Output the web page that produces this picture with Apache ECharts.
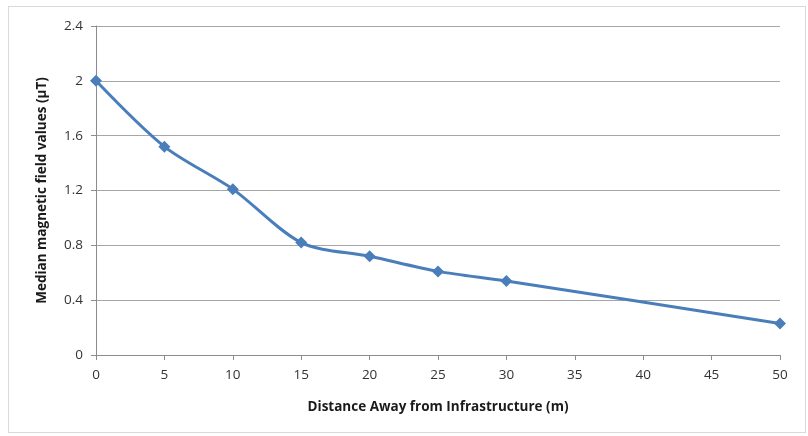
<!DOCTYPE html>
<html>
<head>
<meta charset="utf-8">
<script src="https://cdn.jsdelivr.net/npm/echarts@6/dist/echarts.min.js"></script>
<style>
html,body{margin:0;padding:0;background:#fff;}
#frame{position:absolute;left:8px;top:6px;width:798px;height:427px;border:1px solid #d9d9d9;box-sizing:border-box;}
#c{position:absolute;left:0;top:0;width:808px;height:436px;}
</style>
</head>
<body>
<div id="frame"></div>
<div id="c"></div>
<script>
const distances = [0, 5, 10, 15, 20, 25, 30, 50];
const medianValues = [2.0, 1.52, 1.21, 0.82, 0.72, 0.61, 0.54, 0.23];
const xTitle = 'Distance Away from Infrastructure (m)';
const yTitle = 'Median magnetic field values (µT)';

const chart = echarts.init(document.getElementById('c'));
const font = '"Open Sans", "Liberation Sans", sans-serif';
chart.setOption({
  animation: false,
  grid: {left: 96, right: 28, top: 26, bottom: 81, containLabel: false},
  xAxis: {
    type: 'value', min: 0, max: 50, interval: 5,
    name: xTitle, nameLocation: 'middle', nameGap: 45,
    nameTextStyle: {fontFamily: font, fontSize: 13.5, fontWeight: 'bold', color: '#1a1a1a'},
    axisLine: {lineStyle: {color: '#8c8c8c', width: 1}},
    axisTick: {show: true, length: 5, lineStyle: {color: '#8c8c8c'}},
    axisLabel: {fontFamily: font, fontSize: 13.5, color: '#333', margin: 13},
    splitLine: {show: false}
  },
  yAxis: {
    type: 'value', min: 0, max: 2.4, interval: 0.4,
    name: yTitle, nameLocation: 'middle', nameGap: 47, nameRotate: 90,
    nameTextStyle: {fontFamily: font, fontSize: 13.5, fontWeight: 'bold', color: '#1a1a1a'},
    axisLine: {show: true, lineStyle: {color: '#8c8c8c', width: 1}},
    axisTick: {show: true, length: 5, lineStyle: {color: '#8c8c8c'}},
    axisLabel: {fontFamily: font, fontSize: 13.5, color: '#333', margin: 13},
    splitLine: {show: true, lineStyle: {color: '#a6a6a6', width: 1}}
  },
  series: [{
    type: 'line',
    data: distances.map((d, i) => [d, medianValues[i]]),
    smooth: 0.3,
    symbol: 'diamond', symbolSize: 12,
    lineStyle: {color: '#4a7ebb', width: 3},
    itemStyle: {color: '#4a7ebb'}
  }]
});
</script>
</body>
</html>
